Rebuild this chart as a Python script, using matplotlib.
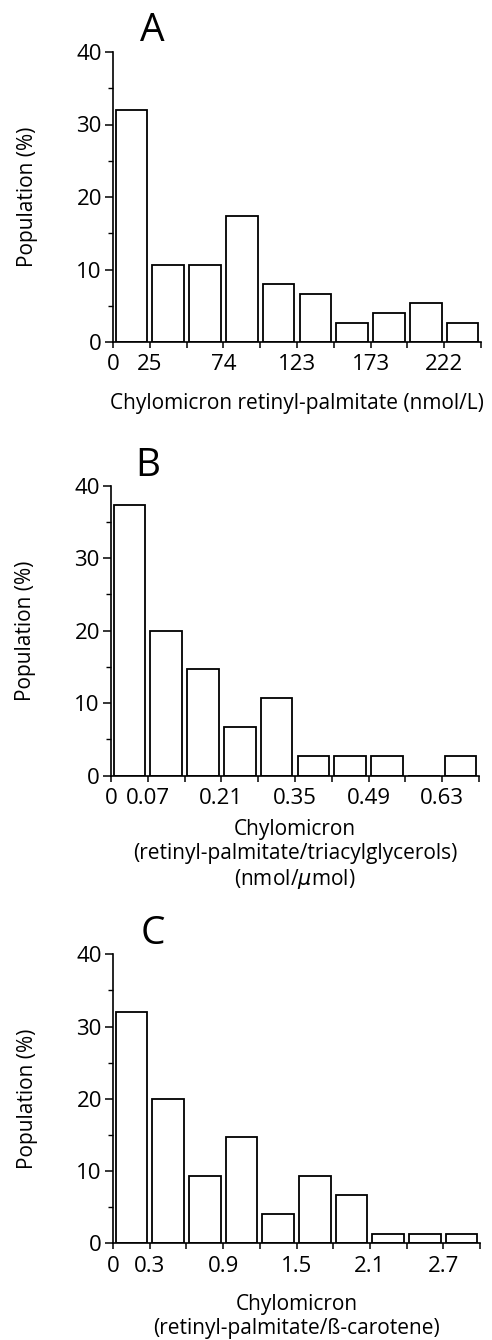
import matplotlib
matplotlib.use("Agg")
import matplotlib.pyplot as plt
from matplotlib.ticker import MultipleLocator, FixedLocator
import numpy as np

plt.rcParams['font.family'] = ['Open Sans', 'DejaVu Sans']

# Panel A: chylomicron retinyl-palmitate (nmol/L)
values_A = [32.0, 10.67, 10.67, 17.33, 8.0, 6.67, 2.67, 4.0, 5.33, 2.67]
ticklabels_A = ["0", "25", "74", "123", "173", "222"]
xlabel_A = "Chylomicron retinyl-palmitate (nmol/L)"

# Panel B: retinyl-palmitate / triacylglycerols (nmol/µmol)
values_B = [37.33, 20.0, 14.67, 6.67, 10.67, 2.67, 2.67, 2.67, 0.0, 2.67]
ticklabels_B = ["0", "0.07", "0.21", "0.35", "0.49", "0.63"]
xlabel_B = "Chylomicron\n(retinyl-palmitate/triacylglycerols)\n(nmol/$\\mu$mol)"

# Panel C: retinyl-palmitate / ß-carotene
values_C = [32.0, 20.0, 9.33, 14.67, 4.0, 9.33, 6.67, 1.33, 1.33, 1.33]
ticklabels_C = ["0", "0.3", "0.9", "1.5", "2.1", "2.7"]
xlabel_C = "Chylomicron\n(retinyl-palmitate/ß-carotene)"

labeled_edges = [0, 1, 3, 5, 7, 9]
panel_letters = ["A", "B", "C"]

fig = plt.figure(figsize=(4.92, 13.40), dpi=100)

rects = [
    [113/492, 1-342/1340, 368/492, 290/1340],
    [111/492, 1-775.7/1340, 368/492, 290/1340],
    [113/492, 1-1243.3/1340, 367/492, 289/1340],
]
letter_pos = [(152, 31), (148, 466), (153, 934)]
xlabel_y = [-0.175, -0.148, -0.175]

panels = [
    (values_A, ticklabels_A, xlabel_A),
    (values_B, ticklabels_B, xlabel_B),
    (values_C, ticklabels_C, xlabel_C),
]

for k, ((vals, tlabels, xlab), rect) in enumerate(zip(panels, rects)):
    ax = fig.add_axes(rect)
    n = len(vals)
    x = np.arange(n) + 0.5
    ax.bar(x, vals, width=0.86, facecolor="white", edgecolor="black", linewidth=1.3)
    ax.set_xlim(0, n)
    ax.set_ylim(0, 40)
    for s in ["top", "right"]:
        ax.spines[s].set_visible(False)
    for s in ["left", "bottom"]:
        ax.spines[s].set_linewidth(1.2)
    ax.yaxis.set_major_locator(MultipleLocator(10))
    ax.yaxis.set_minor_locator(MultipleLocator(5))
    ax.xaxis.set_major_locator(FixedLocator(list(range(n + 1))))
    lab = [""] * (n + 1)
    for e, t in zip(labeled_edges, tlabels):
        lab[e] = t
    ax.set_xticklabels(lab)
    ax.tick_params(axis="y", which="major", direction="out", length=6, width=1.1, labelsize=16, pad=2)
    ax.tick_params(axis="y", which="minor", direction="out", length=3.5, width=1.0)
    ax.tick_params(axis="x", which="major", direction="out", length=4, width=1.1, labelsize=16, pad=5)
    ax.set_ylabel("Population (%)", fontsize=15)
    ax.yaxis.set_label_coords(-0.205, 0.5)
    ax.set_xlabel(xlab, fontsize=15, linespacing=1.2)
    ax.xaxis.set_label_coords(0.5, xlabel_y[k])
    lx, ly = letter_pos[k]
    fig.text(lx/492, 1-ly/1340, panel_letters[k], fontsize=28, ha="center", va="center")

fig.savefig("out.png", dpi=100)
